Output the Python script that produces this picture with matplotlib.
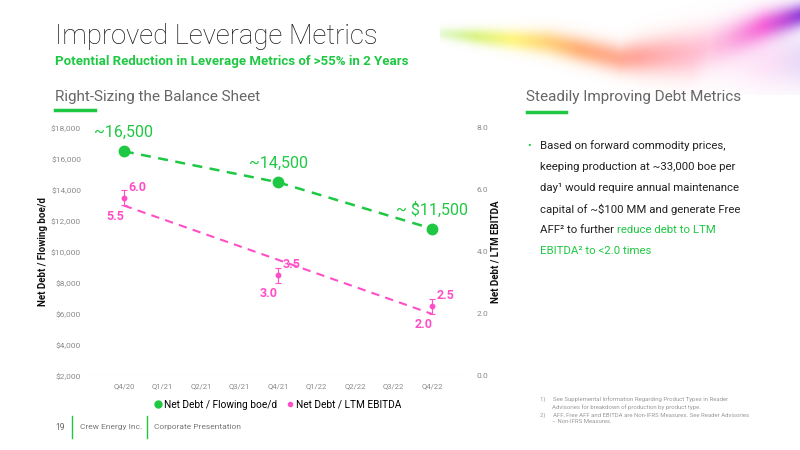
import numpy as np
import matplotlib
matplotlib.use("Agg")
import matplotlib.pyplot as plt
from matplotlib.lines import Line2D

plt.rcParams['font.family'] = ['Roboto', 'DejaVu Sans']

# ---- data ----
quarters = ['Q4/20', 'Q1/21', 'Q2/21', 'Q3/21', 'Q4/21', 'Q1/22', 'Q2/22', 'Q3/22', 'Q4/22']
point_quarters = ['Q4/20', 'Q4/21', 'Q4/22']
debt_per_boe = [16500, 14500, 11500]
debt_per_boe_labels = ['~16,500', '~14,500', '~ $11,500']
ebitda_low = [5.5, 3.0, 2.0]
ebitda_high = [6.0, 3.5, 2.5]
left_ticks = [2000, 4000, 6000, 8000, 10000, 12000, 14000, 16000, 18000]
right_ticks = [0.0, 2.0, 4.0, 6.0, 8.0]

GREEN = '#1fc843'
PINK = '#ff4fc6'
GREY = '#8a8a8a'

fig = plt.figure(figsize=(8, 4.5), dpi=100)
fig.patch.set_facecolor('white')

# ---- decorative swoosh in top-right ----
bg = fig.add_axes([440/800, 1-95/450, 360/800, 95/450])
H, W = 95, 360
yy, xx = np.mgrid[0:H, 0:W].astype(float)
t = xx / (W - 1)
center = np.interp(t, [0, 0.3, 0.5, 0.7, 0.9, 1.0], [33, 42, 58, 52, 25, 15])
width = np.interp(t, [0, 0.3, 0.5, 0.7, 1.0], [6, 12, 14, 22, 12])
band = np.exp(-((yy - center) / width) ** 2)
stops = np.array([0.0, 0.2, 0.38, 0.55, 0.75, 0.9, 1.0])
cols = np.array([[0.55, 0.9, 0.2], [1.0, 0.95, 0.25], [1.0, 0.6, 0.3],
                 [1.0, 0.5, 0.45], [1.0, 0.65, 0.8], [0.95, 0.2, 0.8], [0.55, 0.2, 0.85]])
rgb = np.stack([np.interp(t, stops, cols[:, k]) for k in range(3)], axis=-1)
alpha = band * np.interp(t, [0, 0.1, 0.4, 0.8, 1.0], [0.2, 0.6, 0.75, 0.55, 0.9])
haze = np.exp(-((yy - 60) / 28) ** 2) * np.clip((t - 0.5) * 1.2, 0, 1) * 0.3
img = np.zeros((H, W, 4))
img[..., :3] = rgb
img[..., 3] = np.clip(alpha + haze, 0, 1)
bg.imshow(img, aspect='auto', interpolation='bilinear')
bg.axis('off')

# ---- main chart ----
ax = fig.add_axes([88/800, 1-376/450, 380/800, 248/450])
ax2 = ax.twinx()
ax.set_zorder(ax2.get_zorder() + 1)
ax.patch.set_visible(False)

x_all = np.arange(len(quarters))
px = [quarters.index(q) for q in point_quarters]

ax.set_xlim(-0.93, len(quarters) - 1 + 0.93)
ax.set_ylim(left_ticks[0], left_ticks[-1])
ax2.set_ylim(right_ticks[0], right_ticks[-1])

ax.plot(px, debt_per_boe, color=GREEN, lw=1.8, ls=(0, (4, 3)), marker='o',
        markersize=7.5, zorder=3)
for xi, v, lab in zip(px, debt_per_boe, debt_per_boe_labels):
    ax.annotate(lab, (xi, v), xytext=(0, 8), textcoords='offset points',
                ha='center', va='bottom', color=GREEN, fontsize=11.5)

# pink: range with error bars, trend line from first low to last low
ax2.plot([px[0], px[-1]], [ebitda_low[0], ebitda_low[-1]], color=PINK, lw=1.5,
         ls=(0, (4, 3)), zorder=3)
mids = [(lo + hi) / 2 for lo, hi in zip(ebitda_low, ebitda_high)]
errs = [(hi - lo) / 2 for lo, hi in zip(ebitda_low, ebitda_high)]
ax2.errorbar(px, mids, yerr=errs, fmt='o', color=PINK, markersize=3.2,
             elinewidth=0.8, capsize=2.5, capthick=0.8, zorder=4)
for xi, lo, hi in zip(px, ebitda_low, ebitda_high):
    ax2.annotate(f'{hi:.1f}', (xi, hi), xytext=(3, 2), textcoords='offset points',
                 ha='left', va='center', color=PINK, fontsize=9, fontweight='bold')
    ax2.annotate(f'{lo:.1f}', (xi, lo), xytext=(0, -3), textcoords='offset points',
                 ha='right', va='top', color=PINK, fontsize=9, fontweight='bold')

ax.set_xticks(x_all)
ax.set_xticklabels(quarters)
ax.set_yticks(left_ticks)
ax.set_yticklabels([f'${v:,.0f}' for v in left_ticks])
ax2.set_yticks(right_ticks)
ax2.set_yticklabels([f'{v:.1f}' for v in right_ticks])
for a in (ax, ax2):
    a.tick_params(length=0, labelsize=6, labelcolor=GREY)
    for s in a.spines.values():
        s.set_visible(False)
ax.tick_params(axis='x', pad=5, labelsize=5.5)
ax.tick_params(axis='y', pad=5)
ax2.tick_params(axis='y', pad=6)
ax.axhline(left_ticks[0], color='#e0e0e0', lw=0.8, zorder=1)

ax.set_ylabel('Net Debt / Flowing boe/d', fontsize=7, fontweight='bold', color='#111', labelpad=2)
ax2.set_ylabel('Net Debt / LTM EBITDA', fontsize=7, fontweight='bold', color='#111', labelpad=2)

handles = [Line2D([], [], color=GREEN, marker='o', ls='none', markersize=5),
           Line2D([], [], color=PINK, marker='o', ls='none', markersize=3)]
fig.legend(handles, ['Net Debt / Flowing boe/d', 'Net Debt / LTM EBITDA'],
           loc='center', bbox_to_anchor=(277/800, 1-405/450), ncol=2, frameon=False,
           fontsize=7.3, handletextpad=0.05, columnspacing=0.8, handlelength=1.0)

# ---- text ----
fig.text(55/800, 1-37/450, 'Improved Leverage Metrics', fontsize=19.8, fontweight='light',
         color='#1a1a1a', va='center', ha='left')
fig.text(55/800, 1-62/450, 'Potential Reduction in Leverage Metrics of >55% in 2 Years',
         fontsize=9.5, fontweight='bold', color=GREEN, va='center', ha='left')
fig.text(55/800, 1-97/450, 'Right-Sizing the Balance Sheet', fontsize=11,
         color='#666666', va='center', ha='left')
fig.text(526/800, 1-97/450, 'Steadily Improving Debt Metrics', fontsize=11,
         color='#666666', va='center', ha='left')
fig.add_artist(Line2D([55/800, 95/800], [1-110/450]*2, color=GREEN, lw=2.5))
fig.add_artist(Line2D([527/800, 566/800], [1-112/450]*2, color=GREEN, lw=2.5))

fig.text(527/800, 1-146/450, '•', fontsize=7.5, color=GREEN, va='center', ha='left')
BODY = '#222222'
lines = [
    [('Based on forward commodity prices,', BODY)],
    [('keeping production at ~33,000 boe per', BODY)],
    [('day¹ would require annual maintenance', BODY)],
    [('capital of ~$100 MM and generate Free', BODY)],
    [('AFF² to further ', BODY), ('reduce debt to LTM', GREEN)],
    [('EBITDA² to <2.0 times', GREEN)],
]
FS = 8.2
for i, segs in enumerate(lines):
    y = 1 - (146 + 21 * i) / 450
    prev = fig.text(540/800, y, segs[0][0], fontsize=FS, color=segs[0][1],
                    va='center', ha='left')
    for txt, c in segs[1:]:
        prev = fig.add_artist(matplotlib.text.Annotation(
            txt, xy=(1, 0.5), xycoords=prev, va='center', ha='left',
            fontsize=FS, color=c, annotation_clip=False))

fn = ('1)     See Supplemental Information Regarding Product Types in Reader\n'
      '        Advisories for breakdown of production by product type.\n'
      '2)     AFF, Free AFF and EBITDA are Non-IFRS Measures. See Reader Advisories\n'
      '        \u2013 Non-IFRS Measures.')
fig.text(540/800, 1-397/450, fn, fontsize=4.3, color='#9a9a9a', va='top', ha='left',
         linespacing=1.35)

# footer
fig.text(60/800, 1-427/450, '19', fontsize=6.2, color='#666666', va='center', ha='center')
fig.add_artist(Line2D([72/800]*2, [1-416/450, 1-438/450], color=GREEN, lw=1))
fig.text(80/800, 1-427/450, 'Crew Energy Inc.', fontsize=6, color='#777777', va='center')
fig.add_artist(Line2D([147/800]*2, [1-416/450, 1-438/450], color=GREEN, lw=1))
fig.text(154/800, 1-427/450, 'Corporate Presentation', fontsize=6, color='#777777', va='center')

fig.savefig('out.png', dpi=100)
